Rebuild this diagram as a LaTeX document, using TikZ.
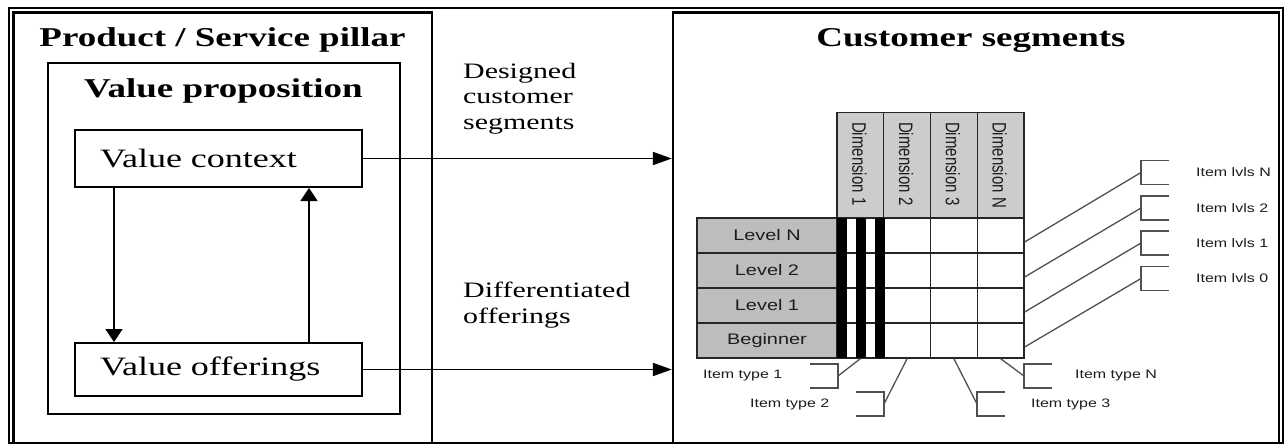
\documentclass[tikz,border=0pt]{standalone}
\usepackage{fontspec}
\setmainfont{Liberation Serif}
\newfontfamily\wideserif[FakeStretch=1.36]{Liberation Serif}
\newfontfamily\widesans[FakeStretch=1.3]{Liberation Sans}
\newfontfamily\plainsans{Liberation Sans}
\usetikzlibrary{arrows.meta,calc}
\definecolor{hdrgray}{HTML}{CCCCCC}
\definecolor{lvlgray}{HTML}{BDBDBD}
\definecolor{gridline}{HTML}{262626}
\definecolor{leadgray}{HTML}{505050}
\definecolor{labelgray}{HTML}{1C1C1C}
\newcommand{\tallglyphs}[1]{\scalebox{1}[1.3]{#1}}
\tikzset{
  heavy/.style={draw=black, line width=2pt},
  panel/.style={heavy, line width=2.3pt, inner sep=0pt},
  title/.style={inner sep=0pt, font=\wideserif\bfseries\fontsize{27.2}{30}\selectfont},
  vbox/.style={heavy, minimum width=287pt, inner xsep=25pt, inner ysep=0pt, text width=237pt,
    align=left, font=\wideserif\fontsize{26.5}{30}\selectfont},
  flowlabel/.style={inner sep=0pt, align=left, font=\wideserif\fontsize{22}{25.5}\selectfont},
  harrow/.style={line width=1.9pt, -{Triangle[length=19pt,width=13pt]}},
  varrow/.style={line width=1.9pt, -{Triangle[length=13pt,width=17pt]}},
  hdrcell/.style={draw=gridline, line width=1.3pt, fill=hdrgray, minimum width=46.75pt, minimum height=106pt, inner sep=0pt},
  lvlcell/.style={draw=gridline, line width=1.3pt, fill=lvlgray, minimum width=140pt, minimum height=35pt, inner sep=0pt,
    text=labelgray, font=\widesans\fontsize{15.3}{18}\selectfont},
  gridcell/.style={draw=gridline, line width=1.3pt, fill=white, minimum width=46.75pt, minimum height=35pt, inner sep=0pt},
  dimlabel/.style={inner sep=0pt, rotate=-90, anchor=west, text=labelgray, font=\plainsans\fontsize{15}{18}\selectfont},
  lead/.style={draw=leadgray, line width=1.3pt},
  itemlabel/.style={inner sep=0pt, anchor=west, text=labelgray, font=\widesans\fontsize{12.3}{14}\selectfont},
  openR/.pic={\draw[lead] (28,-12) -- (0,-12) -- (0,12) -- (28,12);},
  openL/.pic={\draw[lead] (-28,-12) -- (0,-12) -- (0,12) -- (-28,12);},
}
\begin{document}
\begin{tikzpicture}[x=1pt,y=-1pt]
\useasboundingbox (0,0) rectangle (1286,444);

% outer frame
\draw[heavy] (8.5,8) rectangle (1283,443);

% the two panels
\node[panel, minimum width=418.5pt, minimum height=430.5pt] (pillar) at (222.75,227.75) {};
\node[panel, minimum width=606pt, minimum height=430.5pt] (seg) at (976,227.75) {};
\node[title, anchor=base] (pillarT) at (222.5,47) {Product / Service pillar};
\node[title, anchor=base] (segT) at (971,47) {Customer segments};

% value proposition
\node[heavy, minimum width=352pt, minimum height=351pt, inner sep=0pt] (vp) at (224,238.5) {};
\node[title, anchor=base] (vpT) at (223.5,98) {Value proposition};
\node[vbox, minimum height=57pt] (ctx) at (218.5,158.5) {Value context};
\node[vbox, minimum height=53pt] (off) at (218.5,369.5) {Value offerings};

\coordinate (dnx) at (114,0);
\coordinate (upx) at (309,0);
\draw[varrow] (ctx.south -| dnx) -- (off.north -| dnx);
\draw[varrow] (off.north -| upx) -- (ctx.south -| upx);

% flows into the customer segments
\draw[harrow] (ctx.east) -- (ctx.east -| seg.west);
\draw[harrow] (off.east) -- (off.east -| seg.west);
\node[flowlabel, anchor=north west] (dlab) at (463,63) {Designed\\customer\\segments};
\node[flowlabel, anchor=north west] (olab) at (463,282) {Differentiated\\offerings};

% dimension headers
\foreach \c [count=\i] in {1,2,3,N} {
  \node[hdrcell] (h\i) at ({837+46.75*(\i-0.5)},165.5) {};
  \node[dimlabel] at ($(h\i.north)+(-1,10)$) {\tallglyphs{Dimension \c}};
}

% level rows and cells
\foreach \r [count=\j] in {Level N,Level 2,Level 1,Beginner} {
  \node[lvlcell] (r\j) at (767,{218+35*(\j-0.5)}) {\r};
  \foreach \i in {1,...,4}
    \node[gridcell] (c\j\i) at ({837+46.75*(\i-0.5)},{218+35*(\j-0.5)}) {};
}

% bars of the first dimension
\fill[black] (837,218) rectangle (847,358);
\fill[black] (856,218) rectangle (866,358);
\fill[black] (874.5,218) rectangle (884.5,358);

% item levels on the right
\coordinate (bl1) at (1141,172.5);
\coordinate (bl2) at (1141,208);
\coordinate (bl3) at (1141,243);
\coordinate (bl4) at (1141,278.5);
\foreach \k/\t in {1/N,2/2,3/1,4/0} {
  \pic at (bl\k) {openR};
  \draw[lead] ($(c\k4.east)+(0,6.5)$) -- (bl\k);
  \node[itemlabel] at ($(bl\k)+(55,0)$) {Item lvls \t};
}

% item types below
\coordinate (bt1) at (838,376);
\coordinate (bt2) at (884,404);
\coordinate (bt3) at (977,404);
\coordinate (bt4) at (1024,376);
\pic at (bt1) {openL};
\pic at (bt2) {openL};
\pic at (bt3) {openR};
\pic at (bt4) {openR};
\draw[lead] (c41.south) -- (bt1);
\draw[lead] (c42.south) -- (bt2);
\draw[lead] (c43.south) -- (bt3);
\draw[lead] (c44.south) -- (bt4);
\node[itemlabel] (t1) at (703,376) {Item type 1};
\node[itemlabel] (t2) at (750,404) {Item type 2};
\node[itemlabel] (t3) at (1031,404) {Item type 3};
\node[itemlabel] (t4) at (1075,376) {Item type N};
\end{tikzpicture}
\end{document}
